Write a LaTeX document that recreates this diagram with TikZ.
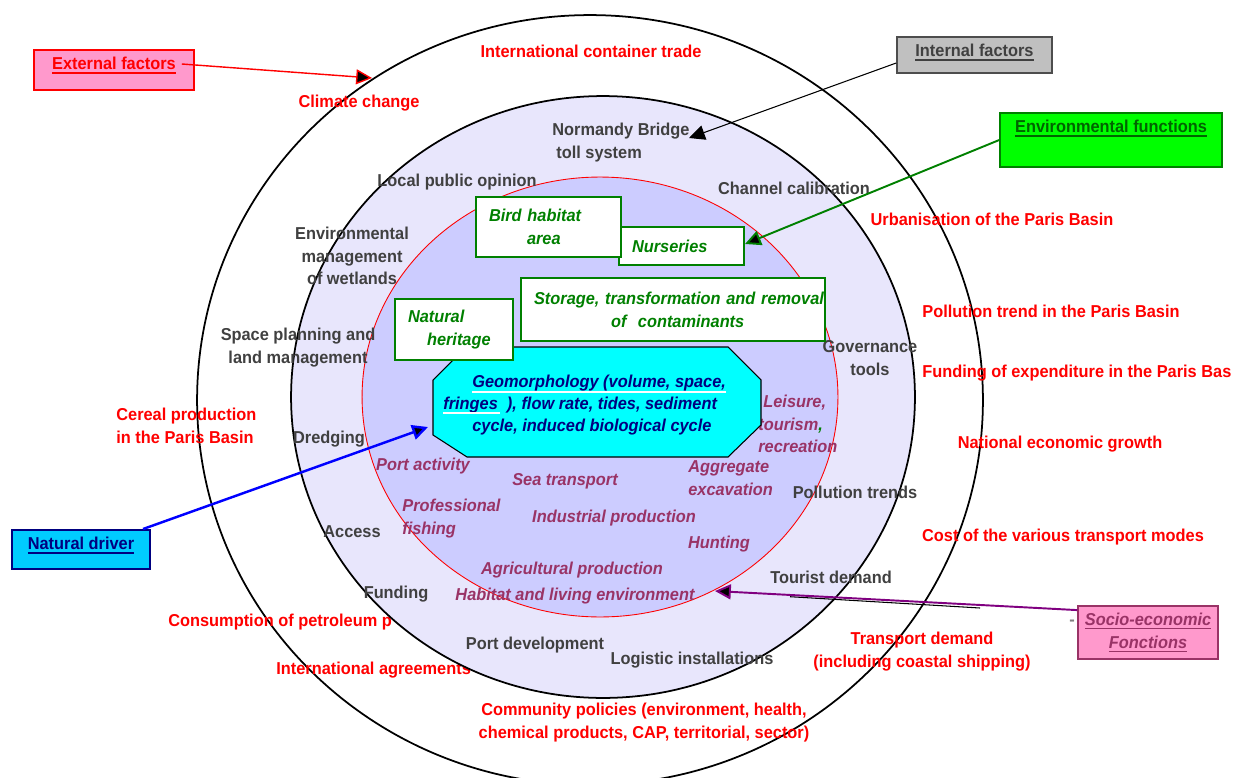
\documentclass[tikz,border=0pt]{standalone}
\usepackage{fontspec}
\setmainfont{Liberation Sans}[FakeStretch=0.95]
\usetikzlibrary{positioning,arrows.meta}
\definecolor{extred}{RGB}{255,0,0}
\definecolor{txtgray}{RGB}{64,64,64}
\definecolor{actpurple}{RGB}{153,51,102}
\definecolor{fngreen}{RGB}{0,128,0}
\definecolor{envtext}{RGB}{0,100,0}
\definecolor{envgreen}{RGB}{0,255,0}
\definecolor{extpink}{RGB}{255,153,204}
\definecolor{intgray}{RGB}{192,192,192}
\definecolor{intline}{RGB}{77,77,77}
\definecolor{navy}{RGB}{0,0,128}
\definecolor{natblue}{RGB}{0,204,255}
\definecolor{geocyan}{RGB}{0,255,255}
\definecolor{midfill}{RGB}{232,230,252}
\definecolor{corefill}{RGB}{204,204,255}
\definecolor{socline}{RGB}{128,0,128}
\newcommand{\lblfont}{\fontsize{9.8}{13}\selectfont\bfseries}
\newcommand{\ulbox}[1]{\setbox0\hbox{#1}\rlap{\rule[-2.2pt]{\wd0}{0.9pt}}\box0}
\newlength{\unitpx}\setlength{\unitpx}{0.02cm}

\begin{document}
\begin{tikzpicture}[x=0.02cm, y=-0.02cm,
    ringout/.style={text=extred, font=\lblfont, inner sep=0pt, yshift=-1.1pt},
    ringmid/.style={text=txtgray, font=\lblfont, inner sep=0pt, yshift=-1.1pt},
    activity/.style={text=actpurple, font=\lblfont\itshape, inner sep=0pt, yshift=-1.1pt},
    fnbox/.style={draw=fngreen, fill=white, text=fngreen, font=\lblfont\itshape, align=left, inner xsep=0pt, line width=0.8pt},
    factorbox/.style={line width=0.9pt, font=\lblfont, inner ysep=4pt},
    pointer/.style={-{Triangle[length=9pt,width=8.5pt,fill=black]}}]
    \useasboundingbox (0,0) rectangle (1236,777);
    % outer ring: external factors
    \draw[line width=1pt] (590,400) ellipse [x radius=7.86cm, y radius=7.7cm];
    \node[ringout] (trade) at (591,49) {International container trade};
    \node[ringout] (climate) at (359,101) {Climate change};
    \node[ringout] (urban) at (992,217) {Urbanisation of the Paris Basin};
    \node[ringout] (pollbasin) at (1051,309) {Pollution trend in the Paris Basin};
    \node[ringout, anchor=west] (fundbasin) at (922,371) {Funding of expenditure in the Paris Bas};
    \node[ringout] (growth) at (1060,442) {National economic growth};
    \node[ringout, align=left, anchor=west] (cereal) at (116,424) {Cereal production\\in the Paris Basin};
    \node[ringout] (cost) at (1063,535) {Cost of the various transport modes};
    \node[ringout, anchor=west] (petrol) at (168,620) {Consumption of petroleum p};
    \node[ringout, anchor=west] (agree) at (276,668) {International agreements};
    \node[ringout, align=center] (transport) at (922,650) {Transport demand\\(including coastal shipping)};
    \node[ringout, align=center] (community) at (644,721) {Community policies (environment, health,\\chemical products, CAP, territorial, sector)};
    % middle ring: internal factors
    \filldraw[fill=midfill, line width=1pt] (603,397) ellipse [x radius=6.24cm, y radius=6.02cm];
    \filldraw[fill=corefill, draw=red, line width=0.5pt] (600,397) ellipse [x radius=4.76cm, y radius=4.4cm];
    \node[ringmid, align=left, anchor=west] (normandy) at (552,141) {Normandy Bridge\\\hspace*{4\unitpx}toll system};
    \node[ringmid] (opinion) at (457,180) {Local public opinion};
    \node[ringmid] (channel) at (794,186) {Channel calibration};
    \node[ringmid, align=center] (wetlands) at (352,254) {Environmental\\management\\of wetlands};
    \node[ringmid, align=center] (planning) at (298,346) {Space planning and\\land management};
    \node[ringmid, align=center] (governance) at (870,356) {Governance\\tools};
    \node[ringmid] (dredging) at (329,437) {Dredging};
    \node[ringmid] (polltrends) at (855,490) {Pollution trends};
    \node[ringmid] (access) at (352,530) {Access};
    \node[ringmid] (tourist) at (831,575) {Tourist demand};
    \node[ringmid] (funding) at (396,592) {Funding};
    \node[ringmid] (portdev) at (535,643) {Port development};
    \node[ringmid] (logistic) at (692,658) {Logistic installations};
    % core: socio-economic functions
    \node[activity, align=left, anchor=west] (leisure) at (758,422) {\hspace*{5\unitpx}Leisure,\\tourism{\color{fngreen},}\\recreation};
    \node[activity] (portact) at (423,464) {Port activity};
    \node[activity] (seatr) at (565,479) {Sea transport};
    \node[activity, align=left, anchor=west] (aggreg) at (688,476) {Aggregate\\excavation};
    \node[activity, align=left, anchor=west] (fishing) at (402,517) {Professional\\fishing};
    \node[activity] (industry) at (614,516) {Industrial production};
    \node[activity] (hunting) at (719,542) {Hunting};
    \node[activity] (agri) at (572,568) {Agricultural production};
    \node[activity] (habitat) at (575,594) {Habitat and living environment};
    % natural driver
    \filldraw[fill=geocyan, line width=0.6pt] (466,347) -- (728,347) -- (761,380) -- (761,425)
        -- (728,457) -- (467,457) -- (433,435) -- (433,380) -- cycle;
    \node[text=navy, font=\fontsize{9.8}{12.5}\selectfont\bfseries\itshape, inner sep=0pt, align=left, anchor=west] (geo) at (443,405)
        {\hspace*{29\unitpx}Geomorphology (volume, space,\\fringes\ \ ), flow rate, tides, sediment\\\hspace*{29\unitpx}cycle, induced biological cycle};
    \draw[white, line width=1.2pt] (472,392) -- (726,392);
    \draw[white, line width=1.2pt] (443,413) -- (500,413);
    % environmental functions
    \node[fnbox, text width=2.5cm, minimum height=0.76cm] (nurseries) at (681.5,246) {\hspace*{13\unitpx}Nurseries};
    \node[fnbox, text width=2.9cm, minimum height=1.2cm] (bird) at (548.5,227) {\hspace*{13\unitpx}Bird habitat\\\hspace*{51\unitpx}area};
    \node[fnbox, text width=6.08cm, minimum height=1.26cm] (storage) at (673,309.5)
        {\hspace*{13\unitpx}Storage, transformation and removal\\\hspace*{90\unitpx}of\ \ contaminants};
    \node[fnbox, text width=2.36cm, minimum height=1.22cm] (heritage) at (454,329.5) {\hspace*{13\unitpx}Natural\\\hspace*{32\unitpx}heritage};
    % legend boxes
    \node[factorbox, draw=red, fill=extpink, text=red, minimum width=3.2cm, text height=7.3pt, text depth=7.4pt] (external) at (114,70) {\ulbox{External factors}};
    \node[factorbox, draw=intline, fill=intgray, text=txtgray, minimum width=3.1cm, text height=7.3pt, text depth=5.1pt] (internal) at (974.5,55) {\ulbox{Internal factors}};
    \node[factorbox, draw=fngreen, fill=envgreen, text=envtext, minimum width=4.44cm, text height=7.3pt, text depth=15.3pt] (envfn) at (1111,140) {\ulbox{Environmental functions}};
    \node[factorbox, draw=navy, fill=natblue, text=navy, line width=1.2pt, minimum width=2.76cm, text height=7.3pt, text depth=6.8pt] (natural) at (81,549.5) {\ulbox{Natural driver}};
    \node[factorbox, draw=actpurple, fill=extpink, text=actpurple, font=\lblfont\itshape, align=center, minimum width=2.8cm, minimum height=0.98cm] (socio) at (1148,632.5) {\ulbox{Socio-economic}\\\ulbox{Fonctions}};
    \node[text=gray, font=\lblfont, inner sep=0pt] (dash) at (1072,623) {-};
    % pointers
    \coordinate (climtip) at (372,78);
    \coordinate (bridgetip) at (689,138);
    \coordinate (nurstip) at (745,244);
    \coordinate (geotip) at (428,427);
    \coordinate (coretip) at (715,591);
    \coordinate (strayl) at (790,596.7);
    \coordinate (strayr) at (980,608);
    \draw[line width=0.6pt] (strayl) -- (strayr);
    \draw[pointer, draw=red, line width=0.8pt] ([shift={(-13,-6)}]external.east) -- (climtip);
    \draw[pointer, line width=0.6pt] ([shift={(0,8)}]internal.west) -- (bridgetip);
    \draw[pointer, draw=fngreen, line width=1.1pt] (envfn.west) -- (nurstip);
    \draw[pointer, draw=blue, line width=1.4pt] ([shift={(-8,0)}]natural.north east) -- (geotip);
    \draw[pointer, draw=socline, line width=1.1pt] ([shift={(0,5)}]socio.north west) -- (coretip);
\end{tikzpicture}
\end{document}
